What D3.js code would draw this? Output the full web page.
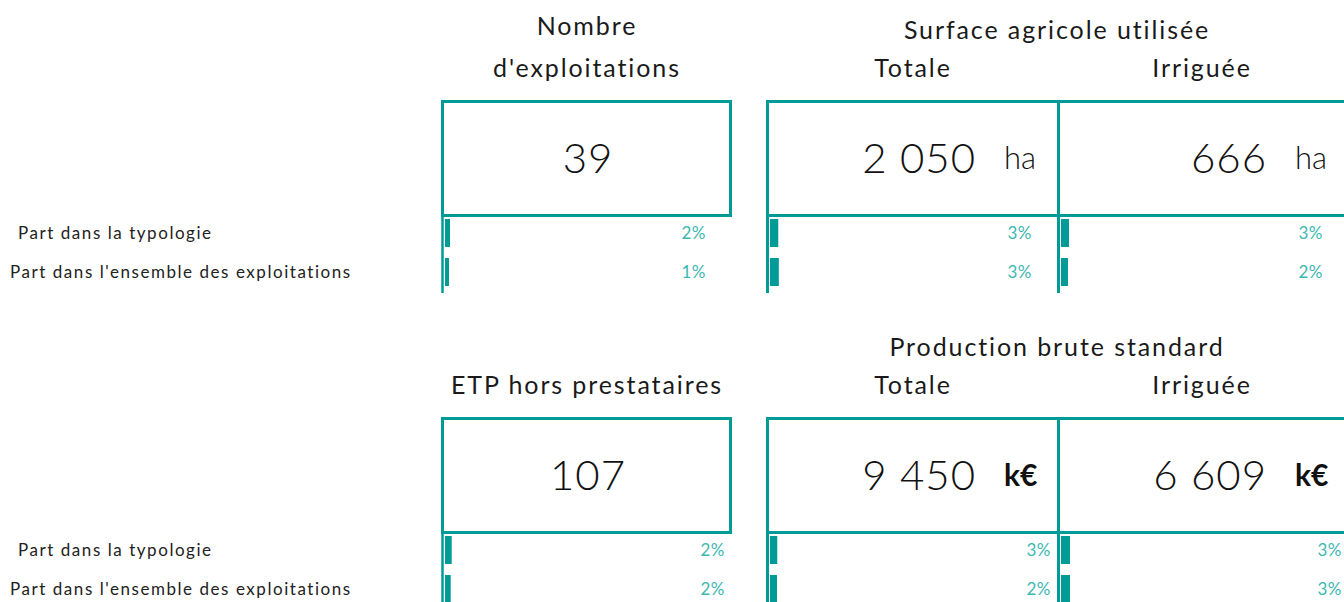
<!DOCTYPE html>
<html>
<head>
<meta charset="utf-8">
<script src="https://cdn.jsdelivr.net/npm/d3@7"></script>
<style>
  body { margin: 0; background: #fff; }
  svg { display: block; font-family: Lato, "Open Sans", sans-serif; }
</style>
</head>
<body>
<div id="chart"></div>
<script>
(function(){

    //Data
    var indicators = ["Nombre d'exploitations", "SAU totale", "SAU irriguée",
                      "ETP hors prestataires", "PBS totale", "PBS irriguée"];
    var values = [39, 2050, 666, 107, 9450, 6609];
    var units = ["", "ha", "ha", "", "k€", "k€"];
    var partTypologie = [1.75, 2.9, 2.8, 2.35, 2.55, 3.15];
    var partEnsemble = [1.4, 3.1, 2.45, 2.0, 2.45, 3.15];
    var rowLabels = ["Part dans la typologie", "Part dans l'ensemble des exploitations"];
    var headers = [
        [["Nombre", "d'exploitations"], "Surface agricole utilisée", "Totale", "Irriguée"],
        [["ETP hors prestataires"], "Production brute standard", "Totale", "Irriguée"]
    ];

    //SVG
    var width = 1344;
    var height = 602;
    var teal = "#009b96";
    var tealText = "#3db7b2";
    var svg = d3.select("#chart").append("svg")
        .attr("width", width)
        .attr("height", height);

    var fr = d3.formatLocale({decimal: ",", thousands: " ", grouping: [3], currency: ["", " €"]});
    var fmt = fr.format(",d");

    //Layout
    var blockTop = [100, 417];
    var boxH = 117;
    var cols = [{x: 441, w: 290}, {x: 766, w: 291}, {x: 1057, w: 291}];
    var rowY = [133, 172];
    var barH = 28;
    var pctInset = [25, 6];

    var xBar = d3.scaleLinear().domain([0, 100]).range([0, 285]);

    function header(g, x, y, t){
        return g.append("text")
            .attr("x", x).attr("y", y)
            .attr("dy", "0.35em")
            .attr("text-anchor", "middle")
            .attr("fill", "#1a1a1a")
            .attr("font-size", "25px")
            .attr("letter-spacing", "1.9px")
            .text(t);
    }

    blockTop.forEach(function(top, b){
        var g = svg.append("g").attr("transform", "translate(0," + top + ")");
        var h = headers[b];

        //Headers
        if (h[0].length === 2) {
            header(g, 587, -74, h[0][0]);
            header(g, 587, -32, h[0][1]);
        } else {
            header(g, 587, -32, h[0][0]);
        }
        header(g, 1057, -70, h[1]);
        header(g, 913, -32, h[2]);
        header(g, 1202, -32, h[3]);

        //Row labels
        g.selectAll(".rowlabel")
            .data(rowLabels).enter().append("text")
            .attr("x", function(d, i){ return i === 0 ? 18 : 10; })
            .attr("y", function(d, i){ return rowY[i]; })
            .attr("dy", "0.35em")
            .attr("font-size", "17px")
            .attr("letter-spacing", "1.55px")
            .attr("fill", "#222")
            .text(function(d){ return d; });

        //Boxes
        g.append("rect")
            .attr("x", cols[0].x + 1.5).attr("y", 1.5)
            .attr("width", cols[0].w - 3 + 1).attr("height", boxH - 3)
            .attr("fill", "none").attr("stroke", teal).attr("stroke-width", 3);
        g.append("rect")
            .attr("x", cols[1].x + 1.5).attr("y", 1.5)
            .attr("width", 700).attr("height", boxH - 3)
            .attr("fill", "none").attr("stroke", teal).attr("stroke-width", 3);

        cols.forEach(function(c, ci){
            var k = b * 3 + ci;
            //Vertical rule
            g.append("line")
                .attr("x1", c.x + 1.5).attr("x2", c.x + 1.5)
                .attr("y1", 0).attr("y2", 193)
                .attr("stroke", teal).attr("stroke-width", ci === 0 ? 2.5 : 3);

            //Value
            if (units[k]) {
                g.append("text")
                    .attr("x", c.x + 210).attr("y", 58)
                    .attr("dy", "0.35em")
                    .attr("text-anchor", "end")
                    .attr("font-size", "42px")
                    .attr("font-weight", 300)
                    .attr("letter-spacing", "1px")
                    .attr("fill", "#111")
                    .text(fmt(values[k]));
                g.append("text")
                    .attr("x", c.x + 238).attr("y", 58)
                    .attr("dy", "0.35em")
                    .attr("font-size", units[k] === "k€" ? "30px" : "31px")
                    .attr("font-weight", units[k] === "k€" ? 700 : 300)
                    .attr("fill", "#111")
                    .text(units[k]);
            } else {
                g.append("text")
                    .attr("x", c.x + 147).attr("y", 58)
                    .attr("dy", "0.35em")
                    .attr("text-anchor", "middle")
                    .attr("font-size", "42px")
                    .attr("font-weight", 300)
                    .attr("letter-spacing", "1px")
                    .attr("fill", "#111")
                    .text(fmt(values[k]));
            }

            //Bars
            var parts = [partTypologie[k], partEnsemble[k]];
            g.selectAll(".bar" + ci)
                .data(parts).enter().append("rect")
                .attr("x", c.x + 4)
                .attr("y", function(d, i){ return rowY[i] - barH / 2; })
                .attr("width", function(d){ return xBar(d); })
                .attr("height", barH)
                .attr("fill", teal);
            g.selectAll(".pct" + ci)
                .data(parts).enter().append("text")
                .attr("x", c.x + c.w - pctInset[b])
                .attr("y", function(d, i){ return rowY[i]; })
                .attr("dy", "0.35em")
                .attr("text-anchor", "end")
                .attr("font-size", "17px")
                .attr("letter-spacing", "0.5px")
                .attr("fill", tealText)
                .text(function(d){ return Math.round(d) + "%"; });
        });
    });

})();
</script>
</body>
</html>
